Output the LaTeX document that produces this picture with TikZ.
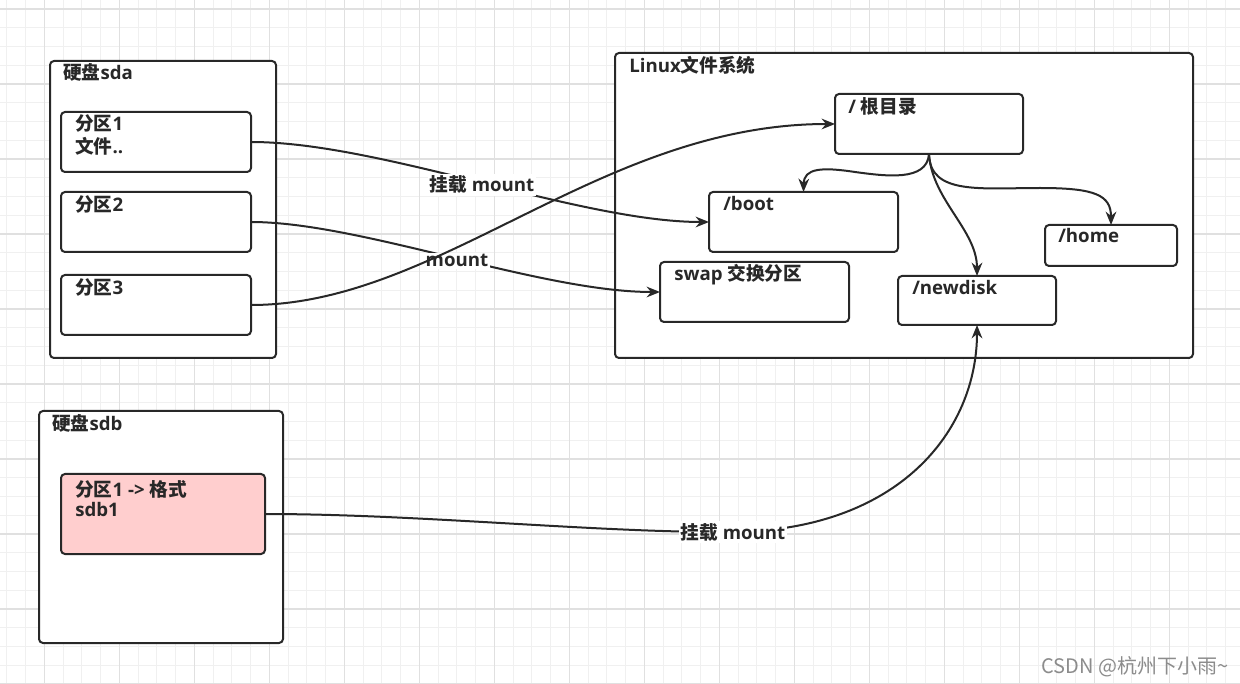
\documentclass[tikz,border=0pt]{standalone}
\usepackage{fontspec}
\setmainfont{Open Sans}
\newfontfamily\cjk{Noto Sans CJK SC}
\usetikzlibrary{arrows.meta}
\definecolor{pinkfill}{RGB}{255,206,206}
\definecolor{inkc}{RGB}{40,40,40}
\newcommand\mkbox[6][white]{\node[box,fill=#1,minimum width=#5*0.75pt,minimum height=#6*0.75pt] (#2) at (#3,#4) {};}
\begin{document}
\begin{tikzpicture}[x=0.75pt,y=-0.75pt,
  minorg/.style={draw=black!6,line width=0.7pt},
  majorg/.style={draw=black!12,line width=0.8pt},
  box/.style={draw=inkc,line width=1.5pt,rounded corners=3pt,inner sep=0pt,outer sep=0pt,anchor=north west},
  txt/.style={anchor=base west,inner sep=0pt,text=inkc,font=\bfseries\fontsize{14}{16}\selectfont},
  lbl/.style={anchor=base,fill=white,inner sep=1.5pt,text=inkc,font=\bfseries\fontsize{14}{16}\selectfont},
  edge/.style={draw=inkc,line width=1.5pt,-{Stealth[length=10pt,width=8pt]}}]
\useasboundingbox (0,0) rectangle (1240,684);
\fill[white] (0,0) rectangle (1240,684);
% grid
\foreach \i in {0,...,66} {\draw[minorg] ({6.8+18.75*\i},0) -- ({6.8+18.75*\i},684);}
\foreach \i in {0,...,36} {\draw[minorg] (0,{9+18.75*\i}) -- (1240,{9+18.75*\i});}
\foreach \i in {0,...,16} {\draw[majorg] ({44.3+75*\i},0) -- ({44.3+75*\i},684);}
\foreach \i in {0,...,9} {\draw[majorg] (0,{9+75*\i}) -- (1240,{9+75*\i});}
% containers
\mkbox{sda}{50}{61}{226}{297}
\mkbox{sdb}{39}{411}{244}{232}
\mkbox{linux}{615}{53}{578}{305}
% inner boxes
\mkbox{p1}{61}{112}{190}{60}
\mkbox{p2}{61}{192}{190}{60}
\mkbox{p3}{61}{275}{190}{60}
\mkbox[pinkfill]{sdb1}{61}{474}{204}{80}
\mkbox{root}{835}{94}{188}{60}
\mkbox{boot}{709}{192}{189}{60}
\mkbox{swap}{660}{262}{189}{60}
\mkbox{newdisk}{898}{276}{158}{49}
\mkbox{home}{1045}{225}{132}{41}
% texts
\node[txt] (tsda) at (63,80) {{\cjk 硬盘}sda};
\node[txt] (tp1a) at (75,131) {{\cjk 分区}1};
\node[txt] (tp1b) at (75,154) {{\cjk 文件}..};
\node[txt] (tp2) at (75,212) {{\cjk 分区}2};
\node[txt] (tp3) at (75,295) {{\cjk 分区}3};
\node[txt] (tsdb) at (52,431) {{\cjk 硬盘}sdb};
\node[txt] (tsdb1a) at (75,496) {{\cjk 分区}1 -> {\cjk 格式}};
\node[txt] (tsdb1b) at (75,517) {sdb1};
\node[txt] (tlinux) at (629,73) {Linux{\cjk 文件系统}};
\node[txt] (troot) at (848,114) {/ {\cjk 根目录}};
\node[txt] (tboot) at (723,211) {/boot};
\node[txt] (tswap) at (674,281) {swap {\cjk 交换分区}};
\node[txt] (tnew) at (912,295) {/newdisk};
\node[txt] (thome) at (1058,243) {/home};
% connectors
\draw[edge] (p1.east) .. controls (380,142) and (580,222) .. (boot.west);
\draw[edge] (p2.east) .. controls (360,222) and (540,292) .. (swap.west);
\draw[edge] (sdb1.east) .. controls (420,514) and (600,533) .. (733,532) .. controls (900,530) and (977,430) .. (newdisk.south);
\draw[edge] (root.south) .. controls (927,182) and (885,176) .. (855,172) .. controls (822,167) and (804,168) .. (boot.north);
\draw[edge] (root.south) .. controls (932,200) and (977,230) .. (newdisk.north);
\draw[edge] (root.south) .. controls (930,195) and (980,188) .. (1040,188) .. controls (1095,188) and (1111,195) .. (home.north);
\node[lbl] (l1) at (482,192) {{\cjk 挂载} mount};
\node[lbl] (l2) at (457,267) {mount};
\node[lbl] (l7) at (733,539) {{\cjk 挂载} mount};
\draw[edge] (p3.east) .. controls (440,305) and (600,124) .. (root.west);
% watermark
\node[anchor=base west,inner sep=0pt,text=black!45,font=\cjk\fontsize{15}{17}\selectfont] (wm) at (1041,673) {CSDN @杭州下小雨\textasciitilde};
\end{tikzpicture}
\end{document}
